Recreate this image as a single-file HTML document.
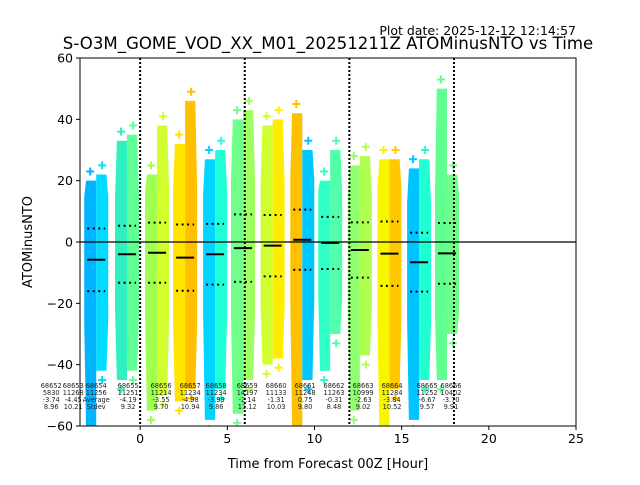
<!DOCTYPE html>
<html><head><meta charset="utf-8"><style>
body{margin:0;background:#fff;}
svg{font-family:"DejaVu Sans","Liberation Sans",sans-serif;}
</style></head><body>
<svg id="chart" width="640" height="480" viewBox="0 0 640 480" xmlns="http://www.w3.org/2000/svg">
<rect x="0" y="0" width="640" height="480" fill="#fff"/>
<text x="576" y="35" font-size="12.5" text-anchor="end">Plot date: 2025-12-12 12:14:57</text>
<text x="328" y="49" font-size="16.6" text-anchor="middle">S-O3M_GOME_VOD_XX_M01_20251211Z ATOMinusNTO vs Time</text>
<g id="plot"></g>
<text x="328" y="468" font-size="13" text-anchor="middle">Time from Forecast 00Z [Hour]</text>
<text x="32" y="242" font-size="13" text-anchor="middle" transform="rotate(-90 32 242)">ATOMinusNTO</text>
</svg>
<script>
const groupTimes=[-2.52,-0.75,0.97,2.58,4.3,5.9,7.6,9.3,10.9,12.6,14.3,16.0,17.6];
const groupMeans=[-5.8,-4.0,-3.5,-5.1,-4.0,-2.0,-1.2,0.75,-0.3,-2.6,-3.8,-6.6,-3.7];
const groupStd=[10.2,9.3,9.8,10.8,9.9,11.0,10.0,9.8,8.5,9.0,10.5,9.6,9.9];
const topA=[20,33,22,32,27,40,38,42,20,25,27,24,50];
const topB=[22,35,38,46,30,43,40,30,30,28,27,27,22];
const botA=[-60,-45,-55,-52,-58,-56,-40,-60,-42,-55,-60,-58,-45];
const botB=[-42,-42,-50,-48,-48,-45,-38,-45,-30,-37,-48,-45,-30];
const colorA=["#00b4ff","#30f0c0","#a0ff50","#ffe400","#00d4ff","#70ff88","#d0ff30","#ffc000","#30ffc8","#90ff70","#f8f500","#00c4ff","#60ff90"];
const colorB=["#00dcff","#60ff98","#d0ff30","#ffc000","#20ffd8","#a0ff60","#ffee00","#00c8ff","#50ffa8","#b0ff50","#ffc800","#20ffd0","#70ff88"];
const labelTimes=[-5.1,-3.84,-2.52,-0.69,1.2,2.87,4.36,6.14,7.8,9.46,11.12,12.79,14.45,16.46,17.83];
const labelIds=["68652","68653","68654","68655","68656","68657","68658","68659","68660","68661","68662","68663","68664","68665","68666"];
const labelCounts=["5830","11268","11256","11251","11214","11234","11234","14197","11133","11248","11263","10999","11284","11252","10402"];
const labelMeans=["-3.74","-4.45","Average","-4.19","-3.55","-4.98","-3.99","-2.14","-1.31","0.75","-0.31","-2.63","-3.84","-6.67","-3.70"];
const labelStds=["8.96","10.21","Stdev","9.32","9.70","10.94","9.86","11.12","10.03","9.80","8.48","9.02","10.52","9.57","9.91"];
const xTicks=[0,5,10,15,20,25];
const yTicks=[-60,-40,-20,0,20,40,60];
const vLines=[0,6,12,18];

const L=80,R=576,T=58,B=426,xmin=-3.45,xmax=25,ymin=-60,ymax=60;
const X=v=>L+(v-xmin)/(xmax-xmin)*(R-L);
const Y=v=>B-(v-ymin)/(ymax-ymin)*(B-T);
const NS="http://www.w3.org/2000/svg";
const plot=document.getElementById('plot');
function mk(tag,at,parent){const e=document.createElementNS(NS,tag);for(const k in at)e.setAttribute(k,at[k]);(parent||plot).appendChild(e);return e;}
const clip=mk('clipPath',{id:'clp'});mk('rect',{x:L,y:T,width:R-L,height:B-T},clip);
const g=mk('g',{'clip-path':'url(#clp)'});


const hw=6;
function band(x0,w,top,bot,mean,sd,col,side){
  const u=Math.min(top,mean+2*sd), l=Math.max(bot,mean-2*sd);
  const n=0.15*w;
  let d;
  if(side<0){
    d=`M${x0+n},${Y(top)}L${x0+w},${Y(top)}L${x0+w},${Y(bot)}L${x0+n},${Y(bot)}L${x0},${Y(l)}L${x0},${Y(u)}Z`;
  } else {
    d=`M${x0},${Y(top)}L${x0+w-n},${Y(top)}L${x0+w},${Y(u)}L${x0+w},${Y(l)}L${x0+w-n},${Y(bot)}L${x0},${Y(bot)}Z`;
  }
  return mk('path',{d:d,fill:col},g);
}
groupTimes.forEach((t,i)=>{
  const cx=X(t);
  const a=band(cx-2*hw,2*hw,topA[i],botA[i],groupMeans[i],groupStd[i],colorA[i],-1);
  
  
  const b=band(cx,2*hw,topB[i],botB[i],groupMeans[i],groupStd[i],colorB[i],1);
  
  
  [[cx-hw,topA[i]+3,colorA[i]],[cx+hw,topB[i]+3,colorB[i]],[cx-hw,botA[i]-3,colorA[i]],[cx+hw,botB[i]-3,colorB[i]]].forEach(p=>{
    const m=mk('path',{d:`M${p[0]-4},${Y(p[1])}h8M${p[0]},${Y(p[1])-4}v8`,stroke:p[2],'stroke-width':2},g);
    
    
  });
  const ml=mk('line',{x1:cx-9,x2:cx+9,y1:Y(groupMeans[i]),y2:Y(groupMeans[i]),stroke:'#000','stroke-width':2},g);
  
  
  [1,-1].forEach(s=>{
    const v=groupMeans[i]+s*groupStd[i];
    const d=mk('line',{x1:cx-9,x2:cx+9,y1:Y(v),y2:Y(v),stroke:'#000','stroke-width':2,'stroke-dasharray':'2,3.5'},g);
    
    
  });
});
vLines.forEach(v=>{
  const l=mk('line',{x1:X(v),x2:X(v),y1:T,y2:B,stroke:'#000','stroke-width':2,'stroke-dasharray':'2,2'});
  
  
});
const zl=mk('line',{x1:L,x2:R,y1:Y(0),y2:Y(0),stroke:'#000','stroke-width':1.2});


labelTimes.forEach((t,i)=>{
  const tx=mk('text',{x:X(t),y:388,'font-size':6.6,'text-anchor':'middle',fill:'#222'});
  
  
  [labelIds[i],labelCounts[i],labelMeans[i],labelStds[i]].forEach((s,j)=>{
    const ts=mk('tspan',{x:X(t),dy:j?7:0},tx);ts.textContent=s;
  });
});
const fr=mk('rect',{x:L,y:T,width:R-L,height:B-T,fill:'none',stroke:'#000','stroke-width':1});


xTicks.forEach(v=>{
  mk('line',{x1:X(v),x2:X(v),y1:B,y2:B+4,stroke:'#000'});
  const t=mk('text',{x:X(v),y:B+17,'font-size':12.5,'text-anchor':'middle'});
  
  
  t.textContent=v;
});
yTicks.forEach(v=>{
  mk('line',{x1:L-4,x2:L,y1:Y(v),y2:Y(v),stroke:'#000'});
  const t=mk('text',{x:L-7,y:Y(v)+4.5,'font-size':12.5,'text-anchor':'end'});
  
  
  t.textContent=v<0?'\u2212'+(-v):v;
});
</script>
</body></html>
